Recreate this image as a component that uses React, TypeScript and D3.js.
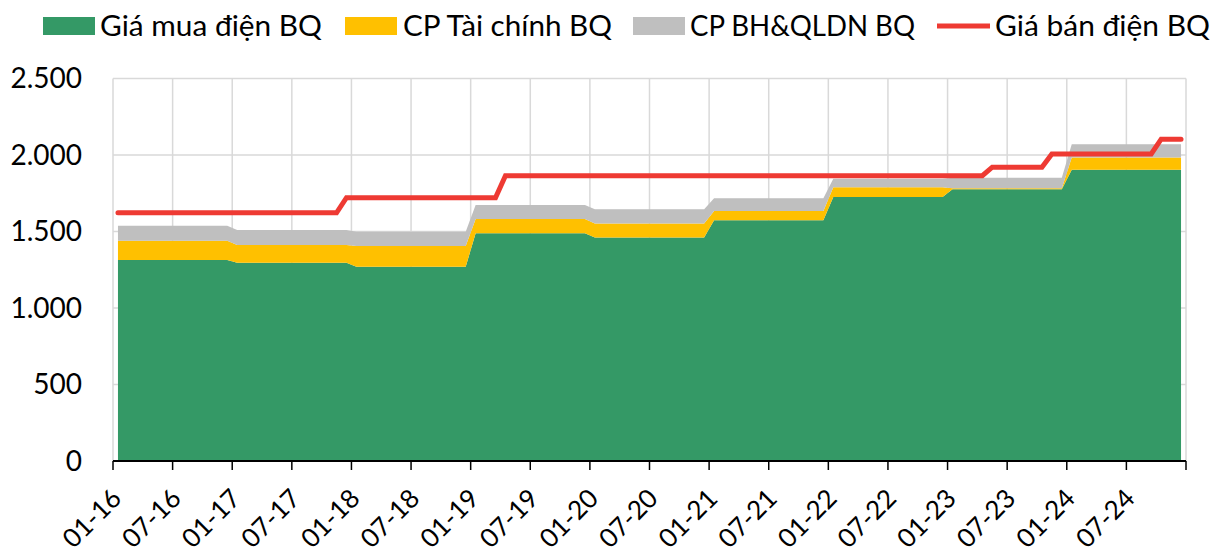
import React from "react";
import * as d3 from "d3";

// ---- Data ----
const years = [2016, 2017, 2018, 2019, 2020, 2021, 2022, 2023, 2024];
// Giá mua điện BQ (đ/kWh) per year
const purchasePrice = [1314, 1296, 1270, 1488, 1460, 1573, 1725, 1776, 1904];
// CP Tài chính BQ per year
const financeCost = [126, 116, 135, 94, 93, 61, 65, 6, 80];
// CP BH&QLDN BQ per year
const sgaCost = [98, 98, 94, 91, 92, 83, 55, 70, 86];
// Giá bán điện BQ: effective month and value
const saleStartMonths = ["2016-01", "2017-12", "2019-04", "2023-05", "2023-11", "2024-10"];
const salePrices = [1622, 1720.65, 1864.44, 1920.37, 2006.79, 2103.11];

const yTicks = [0, 500, 1000, 1500, 2000, 2500];
const yTickLabels = ["0", "500", "1.000", "1.500", "2.000", "2.500"];

const seriesNames = ["Giá mua điện BQ", "CP Tài chính BQ", "CP BH&QLDN BQ", "Giá bán điện BQ"];
const colors = ["#349966", "#FFC000", "#BFBFBF", "#EE3A33"];

const W = 1213;
const H = 555;
const LEFT = 113;
const RIGHT = 1186;
const TOP = 78.5;
const BOTTOM = 461;
const FONT = "Lato, 'Noto Sans', sans-serif";

type Row = { key: string; label: string; green: number; yellow: number; gray: number; sale: number };

export default function App() {
  const rows: Row[] = [];
  years.forEach((yr, yi) => {
    for (let m = 1; m <= 12; m++) {
      const mm = String(m).padStart(2, "0");
      const key = `${yr}-${mm}`;
      let sale = salePrices[0];
      saleStartMonths.forEach((s, si) => {
        if (key >= s) sale = salePrices[si];
      });
      rows.push({
        key,
        label: `${mm}-${String(yr).slice(2)}`,
        green: purchasePrice[yi],
        yellow: financeCost[yi],
        gray: sgaCost[yi],
        sale,
      });
    }
  });

  const x = d3.scaleBand<string>().domain(rows.map((r) => r.key)).range([LEFT, RIGHT]).padding(0);
  const bw = x.bandwidth();
  const cx = (k: string) => (x(k) as number) + bw / 2;
  const y = d3.scaleLinear().domain([0, 2500]).range([BOTTOM, TOP]);

  const stacked = d3.stack<Row>().keys(["green", "yellow", "gray"])(rows);
  const area = d3
    .area<any>()
    .x((d) => cx(d.data.key))
    .y0((d) => y(d[0]))
    .y1((d) => y(d[1]));
  const line = d3
    .line<Row>()
    .x((r) => cx(r.key))
    .y((r) => y(r.sale));

  const tickRows = rows.filter((_, i) => i % 6 === 0);
  const tickXs = [...tickRows.map((r) => x(r.key) as number), RIGHT];

  const legendItems = [
    { sx: 43, tx: 100, w: 222, type: "rect", c: colors[0], t: seriesNames[0] },
    { sx: 345, tx: 403, w: 209, type: "rect", c: colors[1], t: seriesNames[1] },
    { sx: 633, tx: 690, w: 225, type: "rect", c: colors[2], t: seriesNames[2] },
    { sx: 937, tx: 995, w: 215, type: "line", c: colors[3], t: seriesNames[3] },
  ];

  return (
    <svg
      width={W}
      height={H}
      viewBox={`0 0 ${W} ${H}`}
      style={{ position: "absolute", left: 0, top: 0, background: "#fff" }}
      fontFamily={FONT}
    >
      {/* gridlines */}
      <g stroke="#D9D9D9" strokeWidth={1.5}>
        {yTicks.map((t) => (
          <line key={"h" + t} x1={LEFT} x2={RIGHT} y1={y(t)} y2={y(t)} />
        ))}
        {tickXs.map((tx, i) => (
          <line key={"v" + i} x1={tx} x2={tx} y1={y(2500)} y2={BOTTOM} />
        ))}
      </g>

      {/* stacked areas */}
      {stacked.map((s, i) => (
        <path key={s.key} d={area(s) || ""} fill={colors[i]} />
      ))}

      {/* sale price line */}
      <path
        d={line(rows) || ""}
        fill="none"
        stroke={colors[3]}
        strokeWidth={5}
        strokeLinecap="round"
        strokeLinejoin="miter"
      />

      {/* x axis */}
      <line x1={LEFT} x2={RIGHT} y1={BOTTOM} y2={BOTTOM} stroke="#000" strokeWidth={2} />
      {tickXs.map((tx, i) => (
        <line key={"t" + i} x1={tx} x2={tx} y1={BOTTOM} y2={BOTTOM + 9} stroke="#000" strokeWidth={1.5} />
      ))}
      {tickRows.map((r) => (
        <text
          key={"xl" + r.key}
          transform={`translate(${(x(r.key) as number) + 10},${BOTTOM + 39}) rotate(-45)`}
          textAnchor="end"
          fontSize={26}
          fill="#000"
        >
          {r.label}
        </text>
      ))}

      {/* y labels */}
      {yTicks.map((t, i) => (
        <text
          key={"yl" + t}
          x={82}
          y={y(t)}
          dy="0.35em"
          textAnchor="end"
          fontSize={28}
          fill="#000"
        >
          {yTickLabels[i]}
        </text>
      ))}

      {/* legend */}
      {legendItems.map((it) => (
        <g key={it.t}>
          {it.type === "rect" ? (
            <rect x={it.sx} y={17} width={52} height={18} fill={it.c} />
          ) : (
            <line x1={it.sx} x2={it.sx + 53} y1={26} y2={26} stroke={it.c} strokeWidth={5} />
          )}
          <text
            x={it.tx}
            y={36}
            fontSize={29}
            fill="#000"
            textLength={it.w}
            lengthAdjust="spacingAndGlyphs"
          >
            {it.t}
          </text>
        </g>
      ))}
    </svg>
  );
}
